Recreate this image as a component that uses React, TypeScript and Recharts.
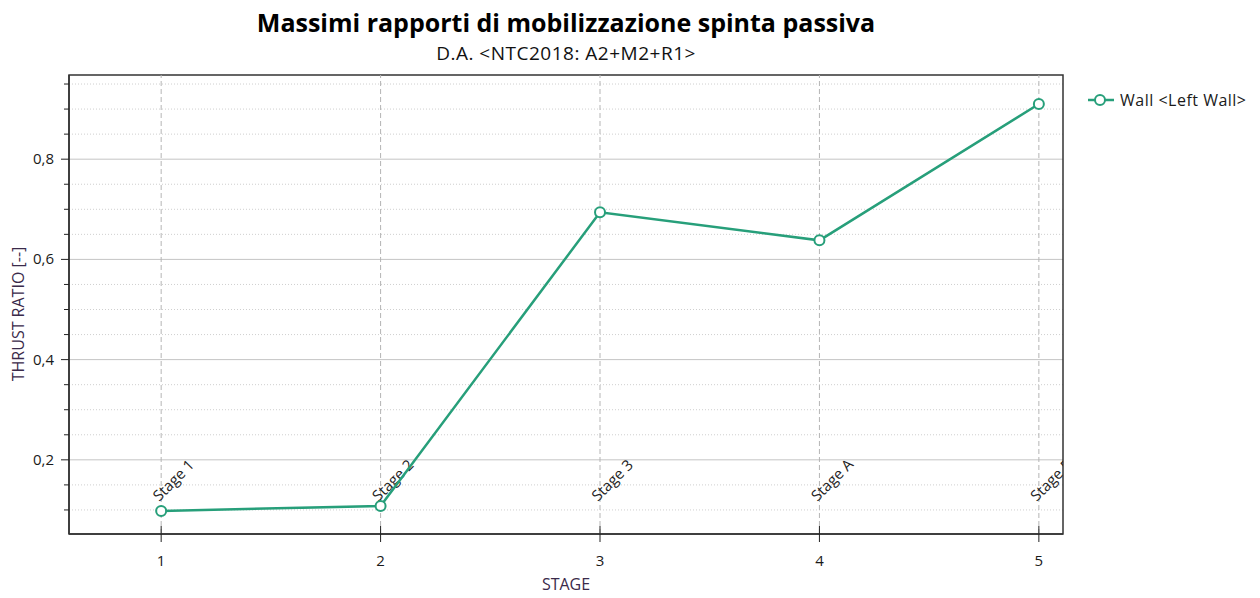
import {
  LineChart,
  Line,
  XAxis,
  YAxis,
  CartesianGrid,
  ReferenceLine,
  ReferenceArea,
} from 'recharts';

const stages = [1, 2, 3, 4, 5];
const stageLabels = ['Stage 1', 'Stage 2', 'Stage 3', 'Stage A', 'Stage 5'];
const wallRatio = [0.098, 0.108, 0.694, 0.638, 0.91];
const majorTicks = [0.2, 0.4, 0.6, 0.8];
const minorTicks = [0.1, 0.15, 0.25, 0.3, 0.35, 0.45, 0.5, 0.55, 0.65, 0.7, 0.75, 0.85, 0.9, 0.95];
const xDomain = [0.58, 5.11];
const yDomain = [0.052, 0.968];

const data = stages.map((s, i) => ({ stage: s, ratio: wallRatio[i] }));
const yTicks = [...majorTicks, ...minorTicks].sort((a, b) => a - b);

const W = 1260;
const H = 598;
const PLOT_LEFT = 69;
const PLOT_RIGHT = 1063;
const GREEN = '#279f7a';
const FONT = '"Open Sans", "Noto Sans", sans-serif';
const isMajor = (v: number) => majorTicks.some((m) => Math.abs(m - v) < 1e-6);

function YTick({ y, payload }: any) {
  const major = isMajor(payload.value);
  return (
    <g>
      <line x1={PLOT_LEFT - (major ? 8 : 5)} x2={PLOT_LEFT} y1={y} y2={y} stroke="#222" strokeWidth={1} />
      {major && (
        <text x={PLOT_LEFT - 15} y={y} dy={5} textAnchor="end" fontSize={15} fill="#1a1a1a" fontFamily={FONT}>
          {payload.value.toFixed(1).replace('.', ',')}
        </text>
      )}
    </g>
  );
}

function XTick({ x, y, payload }: any) {
  return (
    <g>
      <line x1={x} x2={x} y1={y - 8} y2={y + 8} stroke="#222" strokeWidth={1} />
      <text x={x} y={y + 32} textAnchor="middle" fontSize={15} fill="#1a1a1a" fontFamily={FONT}>
        {payload.value}
      </text>
    </g>
  );
}

function StageLabel({ viewBox, text, idx }: any) {
  const x = viewBox.x;
  const bottom = viewBox.y + viewBox.height;
  const id = `stage-clip-${idx}`;
  const ox = x - 2;
  const oy = bottom - 32;
  return (
    <g>
      <defs>
        <clipPath id={id}>
          <rect x={PLOT_LEFT} y={viewBox.y} width={PLOT_RIGHT - PLOT_LEFT} height={viewBox.height} />
        </clipPath>
      </defs>
      <g clipPath={`url(#${id})`}>
        <text
          x={ox}
          y={oy}
          transform={`rotate(-45 ${ox} ${oy})`}
          fontSize={15}
          fill="#222"
          fontFamily={FONT}
        >
          {text}
        </text>
      </g>
    </g>
  );
}

const textBase = { position: 'absolute' as const, fontFamily: FONT, whiteSpace: 'nowrap' as const };

export default function App() {
  return (
    <div style={{ position: 'absolute', left: 0, top: 0, width: W, height: H, background: '#fff' }}>
      <div
        style={{
          ...textBase,
          left: 0,
          width: PLOT_LEFT + PLOT_RIGHT,
          top: 5,
          textAlign: 'center',
          fontWeight: 700,
          fontSize: 25,
          color: '#000',
        }}
      >
        Massimi rapporti di mobilizzazione spinta passiva
      </div>
      <div
        style={{
          ...textBase,
          left: 0,
          width: PLOT_LEFT + PLOT_RIGHT,
          top: 40,
          textAlign: 'center',
          fontSize: 19,
          letterSpacing: 0.5,
          color: '#111',
        }}
      >
        D.A. &lt;NTC2018: A2+M2+R1&gt;
      </div>
      <div
        style={{
          ...textBase,
          left: 0,
          width: PLOT_LEFT + PLOT_RIGHT,
          top: 573,
          textAlign: 'center',
          fontSize: 16,
          color: '#3a2a4a',
        }}
      >
        STAGE
      </div>
      <div
        style={{
          ...textBase,
          left: 18,
          top: 314,
          transform: 'translate(-50%, -50%) rotate(-90deg)',
          fontSize: 16,
          color: '#3a2a4a',
        }}
      >
        THRUST RATIO [--]
      </div>
      <div
        style={{
          ...textBase,
          left: 1087,
          top: 89,
          display: 'flex',
          alignItems: 'center',
          fontSize: 16,
          letterSpacing: 0.5,
          color: '#1a1a1a',
        }}
      >
        <svg width={28} height={16} style={{ marginRight: 5 }}>
          <line x1={1} x2={27} y1={8} y2={8} stroke={GREEN} strokeWidth={2.5} />
          <circle cx={13} cy={8} r={5} fill="#fff" stroke={GREEN} strokeWidth={2} />
        </svg>
        <span>Wall &lt;Left Wall&gt;</span>
      </div>
      <div style={{ position: 'absolute', left: 0, top: 0 }}>
        <LineChart
          width={W}
          height={H}
          data={data}
          margin={{ top: 75, right: W - PLOT_RIGHT, bottom: 34, left: PLOT_LEFT - 50 }}
        >
          <CartesianGrid horizontalValues={minorTicks} vertical={false} stroke="#cfcfcf" strokeDasharray="1 2" />
          <CartesianGrid horizontalValues={majorTicks} vertical={false} stroke="#c4c4c4" />
          <XAxis
            dataKey="stage"
            type="number"
            domain={xDomain}
            ticks={stages}
            allowDataOverflow
            height={30}
            tickSize={0}
            tickMargin={0}
            tickLine={false}
            axisLine={{ stroke: '#333', strokeWidth: 1.5 }}
            tick={<XTick />}
            interval={0}
          />
          <YAxis
            type="number"
            domain={yDomain}
            ticks={yTicks}
            allowDataOverflow
            width={50}
            tickSize={0}
            tickMargin={0}
            tickLine={false}
            axisLine={{ stroke: '#333', strokeWidth: 1.5 }}
            tick={<YTick />}
            interval={0}
          />
          {stages.map((s, i) => (
            <ReferenceLine
              key={s}
              x={s}
              stroke="#b5b5b5"
              strokeDasharray="5 3"
              label={(props: any) => <StageLabel {...props} text={stageLabels[i]} idx={i} />}
            />
          ))}
          <ReferenceArea
            x1={xDomain[0]}
            x2={xDomain[1]}
            y1={yDomain[0]}
            y2={yDomain[1]}
            fill="none"
            fillOpacity={0}
            stroke="#333"
            strokeWidth={1.5}
            ifOverflow="visible"
          />
          <Line
            type="linear"
            dataKey="ratio"
            stroke={GREEN}
            strokeWidth={2.5}
            dot={{ r: 5, fill: '#fff', stroke: GREEN, strokeWidth: 2 }}
            isAnimationActive={false}
          />
        </LineChart>
      </div>
    </div>
  );
}
